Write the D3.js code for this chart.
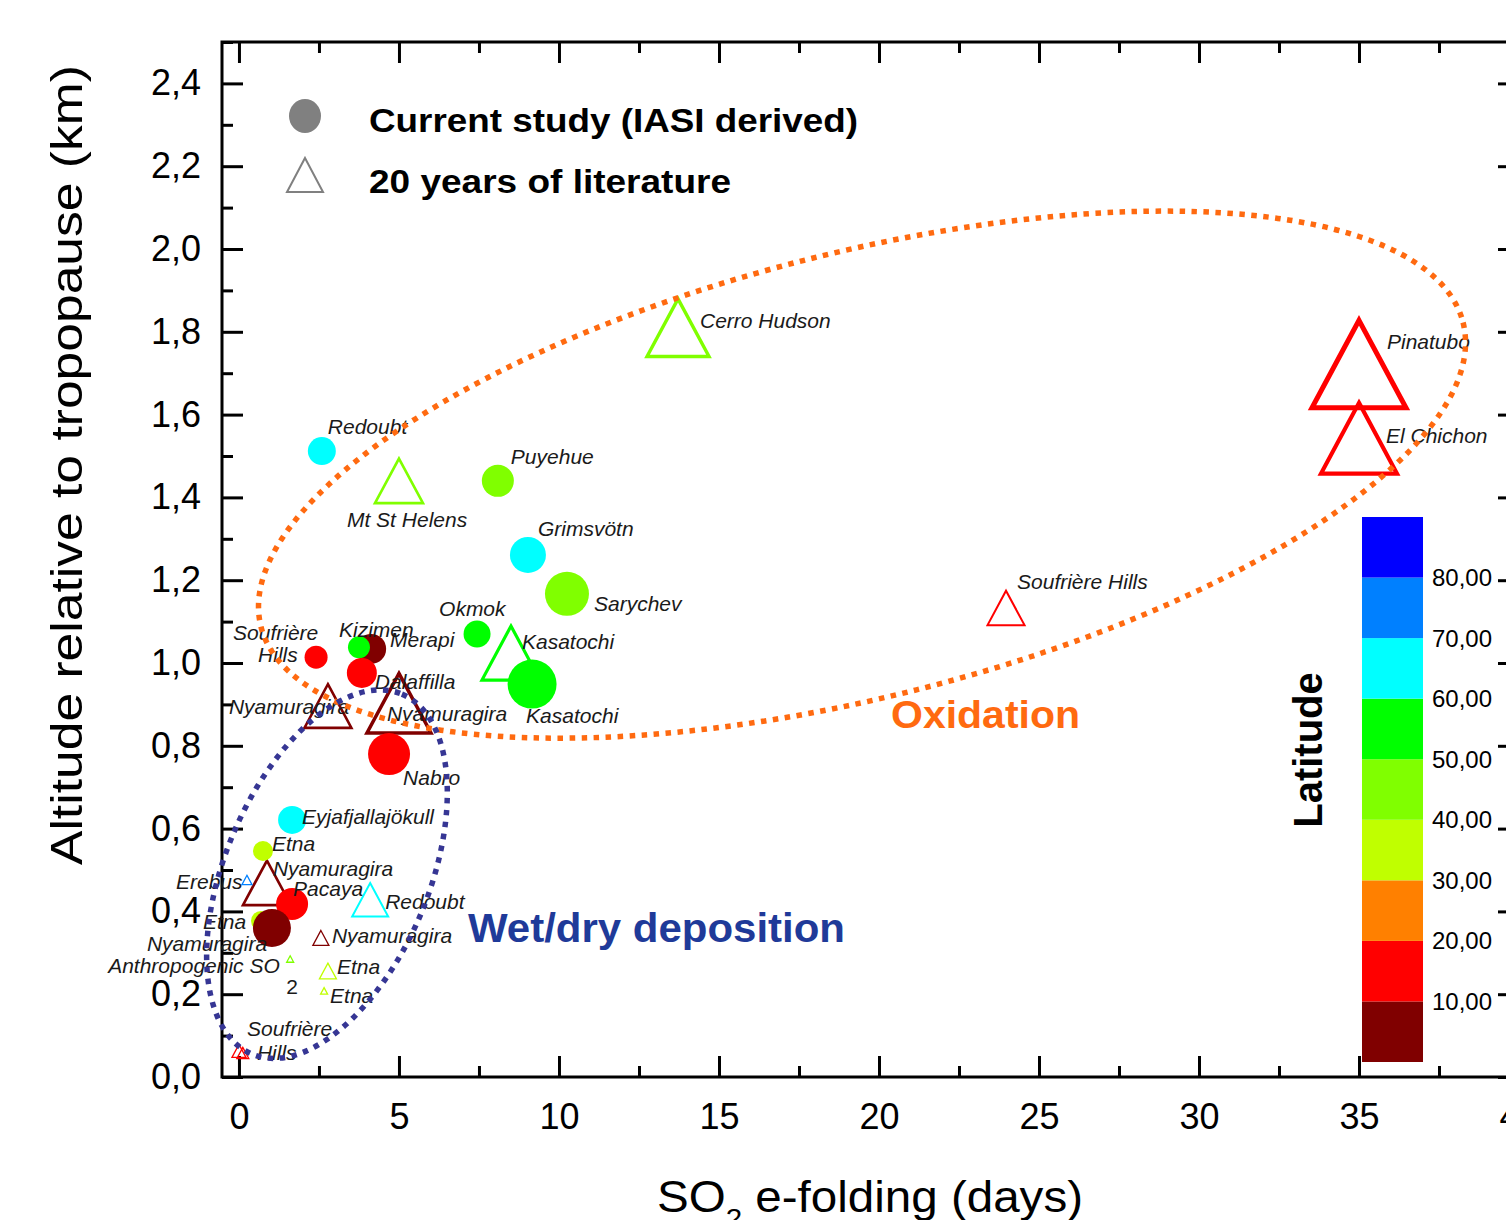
<!DOCTYPE html>
<html>
<head>
<meta charset="utf-8">
<script src="https://cdn.jsdelivr.net/npm/d3@7"></script>
<style>
body { margin: 0; background: #fff; }
svg { display: block; font-family: "Liberation Sans", Arial, sans-serif; }
</style>
</head>
<body>
<script>
// current study (IASI derived) : filled circles
var circleNames = ["Redoubt", "Puyehue", "Grimsvötn", "Sarychev", "Okmok", "Kasatochi",
    "Soufrière Hills", "Merapi", "Kizimen", "Dalaffilla", "Nabro", "Eyjafjallajökull",
    "Etna", "Pacaya", "Etna", "Nyamuragira"];
var circleDays = [2.59, 8.09, 9.03, 10.25, 7.44, 9.16, 2.41, 4.13, 3.75, 3.84, 4.69, 1.66, 0.75, 1.66, 0.69, 1.03];
var circleAlt  = [1.512, 1.44, 1.261, 1.167, 1.07, 0.949, 1.014, 1.034, 1.038, 0.976, 0.78, 0.621, 0.546, 0.418, 0.377, 0.36];
var circleLat  = [60.5, 40.6, 64.4, 48.1, 53.4, 52.2, 16.7, 7.5, 55.1, 13.8, 13.4, 63.6, 37.7, 14.4, 37.7, 1.4];
var circleMag  = [14, 16, 18, 22, 13.5, 24.5, 11.5, 15, 11, 15, 21, 14, 10, 16, 10, 19];

// 20 years of literature : open triangles
var triNames = ["Cerro Hudson", "Mt St Helens", "Pinatubo", "El Chichon", "Soufrière Hills",
    "Kasatochi", "Nyamuragira", "Nyamuragira", "Nyamuragira", "Erebus", "Redoubt",
    "Nyamuragira", "Anthropogenic SO2", "Etna", "Etna", "Soufrière Hills", "Soufrière Hills"];
var triDays = [13.72, 5.0, 35.0, 35.0, 23.97, 8.5, 2.78, 5.0, 0.875, 0.25, 4.1, 2.56, 1.6, 2.78, 2.66, 0.0, 0.12];
var triAlt  = [1.81, 1.44, 1.722, 1.543, 1.133, 1.024, 0.896, 0.903, 0.469, 0.476, 0.428, 0.336, 0.285, 0.256, 0.208, 0.063, 0.058];
var triLat  = [45.9, 46.2, 15.1, 17.4, 16.7, 52.2, 1.4, 1.4, 1.4, 77.5, 60.5, 1.4, 45, 37.7, 37.7, 16.7, 16.7];
var triMag  = [31, 24, 47, 38, 18.5, 29, 23.5, 32, 24, 5, 18, 8, 3.5, 8.5, 3.5, 7, 6];

// label placement (offset from marker, px)
var circleLabels = [
    [0, "Redoubt", 6, -17], [1, "Puyehue", 13, -17], [2, "Grimsvötn", 10, -19],
    [3, "Sarychev", 27, 17], [4, "Okmok", -38, -18], [5, "Kasatochi", -6, 39],
    [6, "Soufrière", -83, -17], [6, "Hills", -58, 5], [7, "Merapi", 19, -2],
    [8, "Kizimen", -20, -10], [9, "Dalaffilla", 13, 16], [10, "Nabro", 14, 31],
    [11, "Eyjafjallajökull", 10, 4], [12, "Etna", 9, 0], [13, "Pacaya", 1, -8],
    [14, "Etna", -58, 8], [15, "Nyamuragira", -125, 23]
];
var triLabels = [
    [0, "Cerro Hudson", 22, 0], [1, "Mt St Helens", -52, 46], [2, "Pinatubo", 28, -15],
    [3, "El Chichon", 27, 5], [4, "Soufrière Hills", 11, -19], [5, "Kasatochi", 11, -4],
    [6, "Nyamuragira", -99, 8], [7, "Nyamuragira", -12, 18], [8, "Nyamuragira", 6, -7],
    [9, "Erebus", -71, 9], [10, "Redoubt", 15, 9], [11, "Nyamuragira", 11, 5],
    [12, "Anthropogenic SO", -182, 14], [13, "Etna", 9, 3], [14, "Etna", 6, 12],
    [15, "Soufrière", 8, -15], [15, "Hills", 18, 9]
];

var latBreaks = [10, 20, 30, 40, 50, 60, 70, 80];
var latColors = ["#800000", "#ff0000", "#ff8000", "#c0ff00", "#80ff00", "#00ff00", "#00ffff", "#0080ff", "#0000ff"];
var latLabels = ["10,00", "20,00", "30,00", "40,00", "50,00", "60,00", "70,00", "80,00"];

var xMajor = d3.range(0, 41, 5);
var xMinor = d3.range(2.5, 40, 5);
var yMajor = d3.range(0, 13).map(function(i) { return i * 0.2; });
var yMinor = d3.range(0, 13).map(function(i) { return 0.1 + i * 0.2; });

var W = 1506, H = 1220;
var svg = d3.select("body").append("svg")
    .attr("width", W)
    .attr("height", H);

var x = d3.scaleLinear().domain([-0.53, 40]).range([222, 1519]);
var y = d3.scaleLinear().domain([0, 2.5]).range([1077, 42]);
var color = d3.scaleThreshold().domain(latBreaks).range(latColors);
var mag = d3.scaleLinear().domain([0, 50]).range([0, 50]);
var comma = function(d) { return d3.format(".1f")(d).replace(".", ","); };

// axes, ticks inward
function styleAxis(g) {
    g.select(".domain").remove();
    g.selectAll(".tick line").attr("stroke", "#000").attr("stroke-width", 3);
    g.selectAll(".tick text").attr("fill", "#000").style("font-size", "36px");
}
svg.append("g").attr("transform", "translate(222,0)")
    .call(d3.axisLeft(y).tickValues(yMajor).tickSize(-21).tickPadding(21).tickFormat(comma))
    .call(styleAxis);
svg.append("g").attr("transform", "translate(222,0)")
    .call(d3.axisLeft(y).tickValues(yMinor).tickSize(-11).tickFormat(""))
    .call(styleAxis);
svg.append("g").attr("transform", "translate(1519,0)")
    .call(d3.axisRight(y).tickValues(yMajor).tickSize(-21).tickFormat(""))
    .call(styleAxis);
svg.append("g").attr("transform", "translate(0,1077)")
    .call(d3.axisBottom(x).tickValues(xMajor).tickSize(-21).tickPadding(26).tickFormat(d3.format("d")))
    .call(styleAxis);
svg.append("g").attr("transform", "translate(0,1077)")
    .call(d3.axisBottom(x).tickValues(xMinor).tickSize(-11).tickFormat(""))
    .call(styleAxis);
svg.append("g").attr("transform", "translate(0,42)")
    .call(d3.axisTop(x).tickValues(xMajor).tickSize(-21).tickFormat(""))
    .call(styleAxis);
svg.append("g").attr("transform", "translate(0,42)")
    .call(d3.axisTop(x).tickValues(xMinor).tickSize(-11).tickFormat(""))
    .call(styleAxis);

svg.append("rect")
    .attr("x", 222).attr("y", 42)
    .attr("width", 1519 - 222).attr("height", 1077 - 42)
    .attr("fill", "none").attr("stroke", "#000").attr("stroke-width", 3);

// axis titles
svg.append("text")
    .attr("transform", "translate(82,465) rotate(-90)")
    .attr("text-anchor", "middle")
    .attr("textLength", 800).attr("lengthAdjust", "spacingAndGlyphs")
    .style("font-size", "45px")
    .text("Altitude relative to tropopause (km)");

var xt = svg.append("text")
    .attr("x", 657).attr("y", 1212)
    .attr("textLength", 426).attr("lengthAdjust", "spacingAndGlyphs")
    .style("font-size", "45px");
xt.append("tspan").text("SO");
xt.append("tspan").attr("dy", 16).style("font-size", "28px").text("2");
xt.append("tspan").attr("dy", -16).text(" e-folding (days)");

// triangles
function triPath(half) {
    var h = half * 2 * 0.93;
    return "M0," + (-h / 2) + "L" + half + "," + (h / 2) + "L" + (-half) + "," + (h / 2) + "Z";
}
var tris = triDays.map(function(d, i) {
    return { days: d, alt: triAlt[i], lat: triLat[i], mag: triMag[i], name: triNames[i] };
});
var circles = circleDays.map(function(d, i) {
    return { days: d, alt: circleAlt[i], lat: circleLat[i], mag: circleMag[i], name: circleNames[i] };
});

svg.append("g").selectAll("path")
    .data(tris)
    .enter().append("path")
    .attr("transform", function(d) { return "translate(" + x(d.days) + "," + y(d.alt) + ")"; })
    .attr("d", function(d) { return triPath(mag(d.mag)); })
    .attr("fill", "none")
    .attr("stroke", function(d) { return color(d.lat); })
    .attr("stroke-width", function(d) { return Math.max(1.3, Math.min(5, mag(d.mag) * 0.11)); });

svg.append("g").selectAll("circle")
    .data(circles)
    .enter().append("circle")
    .attr("cx", function(d) { return x(d.days); })
    .attr("cy", function(d) { return y(d.alt); })
    .attr("r", function(d) { return mag(d.mag); })
    .attr("fill", function(d) { return color(d.lat); });

// point labels
function addLabels(list, pts) {
    svg.append("g").selectAll("text")
        .data(list)
        .enter().append("text")
        .attr("x", function(l) { return x(pts[l[0]].days) + l[2]; })
        .attr("y", function(l) { return y(pts[l[0]].alt) + l[3]; })
        .attr("fill", "#1a1a1a")
        .style("font-size", "21px")
        .style("font-style", "italic")
        .text(function(l) { return l[1]; });
}
addLabels(circleLabels, circles);
addLabels(triLabels, tris);
svg.append("text")
    .attr("x", x(tris[12].days) - 4).attr("y", y(tris[12].alt) + 35)
    .attr("fill", "#1a1a1a")
    .style("font-size", "21px")
    .text("2");

// process ellipses
svg.append("ellipse")
    .attr("transform", "translate(" + x(19.47) + "," + y(1.455) + ") rotate(-14.2)")
    .attr("rx", 620).attr("ry", 222)
    .attr("fill", "none")
    .attr("stroke", "#ff6a10").attr("stroke-width", 5.5)
    .attr("stroke-dasharray", "5.5,6.5");
svg.append("ellipse")
    .attr("transform", "translate(" + x(2.75) + "," + y(0.49) + ") rotate(-67.4)")
    .attr("rx", 195).attr("ry", 102)
    .attr("fill", "none")
    .attr("stroke", "#363694").attr("stroke-width", 5.5)
    .attr("stroke-dasharray", "5.5,6.5");

svg.append("text")
    .attr("x", 891).attr("y", 728)
    .attr("fill", "#ff6a10")
    .attr("textLength", 189).attr("lengthAdjust", "spacingAndGlyphs")
    .style("font-size", "39px").style("font-weight", "bold")
    .text("Oxidation");
svg.append("text")
    .attr("x", 468).attr("y", 942)
    .attr("fill", "#1f3a99")
    .attr("textLength", 377).attr("lengthAdjust", "spacingAndGlyphs")
    .style("font-size", "40px").style("font-weight", "bold")
    .text("Wet/dry deposition");

// legend
svg.append("ellipse")
    .attr("cx", 305).attr("cy", 116).attr("rx", 16).attr("ry", 17)
    .attr("fill", "#808080");
svg.append("path")
    .attr("transform", "translate(305,175)")
    .attr("d", "M0,-17L18,17L-18,17Z")
    .attr("fill", "none").attr("stroke", "#808080").attr("stroke-width", 2);
svg.append("text")
    .attr("x", 369).attr("y", 132)
    .attr("textLength", 489).attr("lengthAdjust", "spacingAndGlyphs")
    .style("font-size", "34px").style("font-weight", "bold")
    .text("Current study (IASI derived)");
svg.append("text")
    .attr("x", 369).attr("y", 193)
    .attr("textLength", 362).attr("lengthAdjust", "spacingAndGlyphs")
    .style("font-size", "34px").style("font-weight", "bold")
    .text("20 years of literature");

// latitude colour bar
var cb = d3.scaleLinear().domain([0, 90]).range([1062, 517]);
var bands = d3.range(latColors.length);
svg.append("g").selectAll("rect")
    .data(bands)
    .enter().append("rect")
    .attr("x", 1362)
    .attr("width", 61)
    .attr("y", function(i) { return cb((i + 1) * 10); })
    .attr("height", function(i) { return cb(i * 10) - cb((i + 1) * 10); })
    .attr("fill", function(i) { return latColors[i]; });
svg.append("g").selectAll("text")
    .data(latBreaks)
    .enter().append("text")
    .attr("x", 1432)
    .attr("y", function(d) { return cb(d); })
    .attr("dy", "0.35em")
    .style("font-size", "24px")
    .text(function(d, i) { return latLabels[i]; });
svg.append("text")
    .attr("transform", "translate(1322,750) rotate(-90)")
    .attr("text-anchor", "middle")
    .style("font-size", "40px").style("font-weight", "bold")
    .text("Latitude");
</script>
</body>
</html>
